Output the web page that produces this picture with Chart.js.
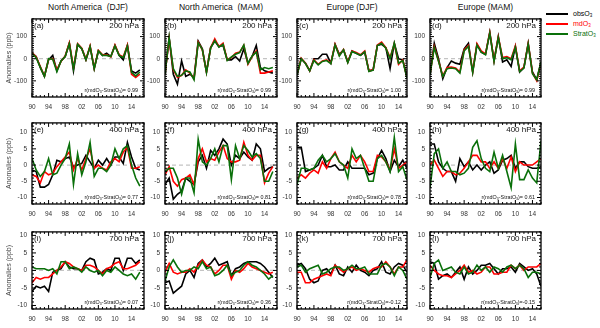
<!DOCTYPE html>
<html>
<head>
<meta charset="utf-8">
<script src="https://cdn.jsdelivr.net/npm/chart.js@4.4.1/dist/chart.umd.min.js"></script>
<style>
  body { margin: 0; background: #fff; width: 600px; height: 328px; position: relative; overflow: hidden;
         font-family: "Liberation Sans", Arial, Helvetica, sans-serif; }
  canvas { position: absolute; }
  .ttl { position: absolute; top: 2px; font-size: 8.5px; line-height: 10px; color: #111; white-space: pre; transform: translateX(-50%); }
  .leg { position: absolute; left: 546px; height: 10px; font-size: 7px; line-height: 10px; white-space: nowrap; }
  .leg i { display: inline-block; width: 22px; height: 1.5px; vertical-align: middle; margin-right: 5px; }
  .leg sub { font-size: 4.5px; vertical-align: -1px; }
</style>
</head>
<body>
<div class="leg" style="top:9px;color:#000"><i style="background:#000"></i>obsO<sub>3</sub></div>
<div class="leg" style="top:19px;color:#ff0000"><i style="background:#ff0000"></i>mdO<sub>3</sub></div>
<div class="leg" style="top:29px;color:#0a700a"><i style="background:#0a700a"></i>StratO<sub>3</sub></div>
<script>
// years of the anomaly series
const years = [1990, 1991, 1992, 1993, 1994, 1995, 1996, 1997, 1998, 1999, 2000, 2001, 2002, 2003,
  2004, 2005, 2006, 2007, 2008, 2009, 2010, 2011, 2012, 2013, 2014, 2015, 2016];
const xTickYears = [1990, 1994, 1998, 2002, 2006, 2010, 2014];

const columnTitles = ['North America  (DJF)', 'North America  (MAM)', 'Europe (DJF)', 'Europe (MAM)'];
const levels = ['200 hPa', '400 hPa', '700 hPa'];
const panelLetters = ['a', 'b', 'c', 'd', 'e', 'f', 'g', 'h', 'i', 'j', 'k', 'l'];
const rValues = ['0.99', '0.99', '1.00', '0.99', '0.77', '0.81', '0.78', '0.61', '0.07', '0.36', '-0.12', '-0.15'];
const rowYTicks = [[-100, 0, 100], [-10, -5, 0, 5, 10], [-10, -5, 0, 5, 10]];

// 200 hPa
const obsA = [25, 10, -40, -80, -5, 15, -55, -10, 10, 70, -55, 65, 45, -5, 55, -45, 35, 15, 25, 10, 60, 15, -5, 60, -55, -65, -50];
const mdA = [28, 8, -35, -78, -2, 0, -50, -12, 12, 72, -40, 68, 48, -3, 58, -42, 38, 18, 18, 8, 62, 18, 8, 62, -70, -85, -70];
const stA = [26, 5, -38, -80, 0, -2, -58, -10, 10, 68, -45, 65, 45, -5, 55, -45, 35, 15, 15, 10, 58, 15, 5, 58, -62, -78, -60];

const obsB = [-70, 95, -70, -115, -10, -80, -70, -85, 80, 45, -60, 50, 80, 55, 60, -5, -5, 10, -10, 45, -20, 10, 60, -40, -55, -60, -65];
const mdB = [-70, 90, -50, -85, -75, -50, -65, -90, 75, 40, -60, 50, 90, 55, 70, -5, 5, 25, 30, 60, -25, 10, 35, -65, -65, -60, -55];
const stB = [-70, 95, -45, -80, -75, -55, -60, -95, 72, 42, -62, 48, 82, 52, 65, -8, 8, 20, 28, 62, -22, 12, 30, -50, -40, -45, -40];

const obsC = [-75, 0, -20, -55, 0, 0, 20, 20, -20, 65, 20, 40, -15, 35, 25, 15, 30, -55, -50, 60, 65, 50, -45, 70, 0, -5, -85];
const mdC = [-70, 2, -20, -55, -5, -25, -10, -5, -20, 65, 15, 42, -15, 35, 28, 18, 35, -55, -50, 62, 75, 50, 5, 68, -25, -5, -85];
const stC = [-72, 0, -22, -55, -8, -28, -12, -8, -22, 62, 12, 40, -18, 32, 25, 15, 32, -58, -52, 60, 70, 48, 0, 70, -20, -8, -88];

const obsD = [-70, 70, 0, -90, -40, -10, -20, -25, 45, 70, -60, 65, 30, 20, 120, -10, 100, -15, -5, -35, 55, -60, -40, 70, -60, -95, -15];
const mdD = [-70, 55, -10, -78, -40, -38, -42, -60, 40, 60, -58, 68, 35, 22, 118, -8, 98, 5, 10, 0, 58, -55, -38, 68, -65, -100, -18];
const stD = [-72, 50, -12, -80, -45, -42, -45, -65, 35, 55, -62, 62, 30, 18, 115, -12, 95, 0, 5, -5, 52, -58, -42, 65, -68, -95, -15];

// 400 hPa
const obsE = [-1.5, -2, -6.8, -6.8, -6, -3, 1.5, 1, 2, 2.5, -0.5, 0, 0.5, 3, 1, -1, 1.5, 0, 2, 0, 2.5, 2.5, 0.5, 7, 2.5, -1, -1.5];
const mdE = [-3, -3.5, -5.5, -2, -3, -2.5, -0.5, 1, 2.5, 4, -1.5, 2, -1.5, 2, 5, -1, 0, -1, -1.5, 1, 2, 1, 4, 5.5, -1, -1, -0.5];
const stE = [2, -1.5, -3.5, -2, 2, -3, -2.5, 0, 2, 6.5, -6, 3.5, -3, 1, 7, -3.5, -1, -1, -2, 0, 5, 2, 5, 6, 0, -4, -6.5];

const obsF = [-6, -4, -10.5, -9, -8, -4, -5, -6, 1, 3, -1, 4.5, 3, 5, 8, 6.5, 0, 3, 2, 4, 2.5, 1.5, 6.5, 5, -2, -1, -0.5];
const mdF = [-3, -0.5, -5, -6.5, -4.5, -4, -3, -6, 2, 5, 1, 2, 1.5, 4, 6, 2, 1, 1, 1.5, 7, 3, 1.5, 3, 3, -5.5, -2.5, -0.5];
const stF = [-2, -1, -1, -4, -9, -4, -4, -8.5, 8, 1, 0, 2, 5, 1, 6, 6, -4.5, 6, 2, 6, 4.5, 2.5, 3.5, 2, -5, -5, -2];

const obsG = [5.5, 5.5, -2, -1.5, -1, 0, 3, -0.5, -0.5, 0, -1.5, -1.5, 1, -1, -1, -1, -1, -3, -2.5, 2, 4.5, 2, -2, 1.5, -0.5, 1.5, -1];
const mdG = [-4, -3, -4, -2.5, -1.5, -2.5, 1, -1, 2, 4, 1, 0, -1, 3, 1, 3, 1, -2, -2, 3, 2.5, 1, -1.5, 5, -1, 0, 1];
const stG = [-6, -1, -1, -1.5, -1, 1.5, 3, 1, 2, 3.5, 1, 0, -4, 5, 2, 3, -1, -5, -5, 2, 3, 1, -2, 8.5, -2, -0.5, -4.5];

const obsH = [6.5, 6.5, 1, -1, -2, -2, -5, 2, -0.5, 1, -1.5, 0, -1.5, 0, 1, -2.5, -1.5, 1.5, 2, 3, -1, 1, 1, -0.5, -1, -1, -0.5];
const mdH = [0, 1.5, -1, -3.5, -2, -2, -3, -2.5, -1, 1, 3, 3, 1, 1, -1, 1, -1, 2, -1, 2.5, -2, 1, 0, 0, 0, 1, 2];
const stH = [-7, 3.5, 5, -1, 1, -2, -2, -3, -2.5, -1, 5.5, 7.5, 2, -1, -2, 4, -1, 3, -2, -7, 6.5, -4.5, -4.5, -1.5, -4, -5.5, 7.5];

// 700 hPa
const obsI = [-6, -4.5, -5, -4.5, -6, -0.5, 0, 0.5, 2.5, 1, 0.5, 0.5, 0, 2.5, 3.5, 3, -1, -0.5, 0.5, 0, 3.5, 3.5, 0, 3.5, 3.5, 2, 3];
const mdI = [-3.5, -2, -2.5, -2, -2, -1, 0, 1, 2.5, 2, 1, 0.5, 0, 1.5, 1.5, 1, 0, -1, 0.5, 1, 2, 2.5, 0.5, 0.5, 1, 1.5, 2.5];
const stI = [1, 0.5, 0.5, 0.5, 0, 0.5, -1, 2.5, 2.5, 0.5, 1, 0.5, -0.5, 1, 0, -0.5, 0, -1.5, 0, -0.5, 1, 0, -1, -1.5, -1, -2.5, -0.5];

const obsJ = [-3.5, -3, -6.5, -5.5, -4.5, -1, 0, -2, 2, 3, 1, 2, 3.5, 1.5, 2, 2.5, -1.5, 0.5, 1, 2, 2.5, 2.5, 2.5, 2, 1, -0.5, -2];
const mdJ = [-0.5, 2, -0.5, -1, -0.5, -0.5, 0.5, -0.5, 1.5, 3, 1.5, 1, -1, 0, 1.5, 1.5, -2.5, 0, -0.5, 0.5, 2, 1, 0.5, 0, -0.5, -1, -0.5];
const stJ = [-3, 1, 3, 1, -0.5, 0, 0, 1, 0.5, 2.5, 0.5, 1, -1.5, -1, 0, 1.5, -1.5, -0.5, 0, 1.5, 2.5, 1.5, 1, 0, -1, -2.5, -1.5];

const obsK = [1.5, 2, 0.5, -2.5, -3.5, -3, 0, 0.5, -1, 1.5, -1, -1.5, 1, -0.5, 1.5, 0, -0.5, -1.5, 0, 0.5, 2.5, -0.5, -1, 1, 2, 1.5, -0.5];
const mdK = [-0.5, -0.5, -3.5, -3.5, -2.5, -2, -1.5, -1, -1.5, 1.5, 0.5, -0.5, 0.5, 1, 0, 0.5, 0, -0.5, 0.5, 1, 1, 2.5, 1, -1, 1, 1, 3];
const stK = [1, 1.5, -0.5, 0.5, 1, 1.5, -1, -0.5, 0.5, 1, 1, 0, 0.5, 1.5, 0.5, 0.5, 1, -1, -1, -1, 1.5, 2, 1, -1.5, 1, 0, -2.5];

const obsL = [2.5, 2, -2.5, -1.5, -1, -2, -0.5, 1, -2.5, 1, -1, 0, 1.5, 1.5, 2, 0.5, -1, 0.5, 0.5, 1, -0.5, 2, 1, 0, 0.5, -1, -4.5];
const mdL = [1.5, 0, -1, -1.5, -1.5, -2, -1, 0, 1.5, -0.5, 0, -1, -0.5, 1, 1, -1, -1, -0.5, -0.5, 1.5, 0.5, 1.5, 0, 1, 1, 1, 2];
const stL = [-2, 2, 3, 0, 0.5, 1, -0.5, -1, 1, -1, -0.5, 1.5, 0, 1, -0.5, 1, 0.5, -0.5, 1, 1.5, 0.5, 1.5, 0.5, -2, -0.5, -0.5, -1];

const panelSeries = [
  [obsA, mdA, stA], [obsB, mdB, stB], [obsC, mdC, stC], [obsD, mdD, stD],
  [obsE, mdE, stE], [obsF, mdF, stF], [obsG, mdG, stG], [obsH, mdH, stH],
  [obsI, mdI, stI], [obsJ, mdJ, stJ], [obsK, mdK, stK], [obsL, mdL, stL]
];

// layout of the plot boxes (page pixels)
const colLeft = [32, 165, 297, 430];
const colRight = [144, 277, 407, 541];
const rowTop = [16, 120, 229];
const rowBottom = [97, 204, 309];
const rowRange = [[-173, 180], [-12, 13], [-11, 11]];
const rowMinorStep = [10, 1, 1];
const colXMax = [2017, 2017, 2016, 2016];

const FONT = '"Liberation Sans", Arial, Helvetica, sans-serif';
const COLORS = { obs: '#000000', md: '#ff0000', strat: '#0a700a' };

function toPoints(vals) {
  return vals.map((v, i) => ({ x: years[i], y: v }));
}

// right-aligned text with subscripts
function richText(ctx, parts, x, y, size) {
  const widths = parts.map(([t, sub]) => {
    ctx.font = (sub ? size * 0.65 : size) + 'px ' + FONT;
    return ctx.measureText(t).width;
  });
  let cx = x - widths.reduce((a, b) => a + b, 0);
  parts.forEach(([t, sub], i) => {
    ctx.font = (sub ? size * 0.65 : size) + 'px ' + FONT;
    ctx.fillText(t, cx, sub ? y + size * 0.25 : y);
    cx += widths[i];
  });
}

const panelDecor = {
  id: 'panelDecor',
  beforeDatasetsDraw(chart) {
    const { ctx, chartArea: a, scales } = chart;
    const y0 = scales.y.getPixelForValue(0);
    ctx.save();
    ctx.strokeStyle = '#c4c4c4';
    ctx.lineWidth = 1.3;
    ctx.setLineDash([4, 3]);
    ctx.beginPath();
    ctx.moveTo(a.left, y0);
    ctx.lineTo(a.right, y0);
    ctx.stroke();
    ctx.restore();
  },
  afterDraw(chart, args, o) {
    const { ctx, chartArea: a, scales: { x, y } } = chart;
    ctx.save();
    ctx.setLineDash([]);
    ctx.strokeStyle = '#000';
    ctx.lineWidth = 1.3;
    ctx.strokeRect(a.left, a.top, a.right - a.left, a.bottom - a.top);

    // inward tick marks
    ctx.lineWidth = 1;
    ctx.beginPath();
    for (let yr = 1990; yr <= x.max; yr++) {
      const px = x.getPixelForValue(yr);
      const len = (yr - 1990) % 4 === 0 ? 4 : 2;
      ctx.moveTo(px, a.bottom); ctx.lineTo(px, a.bottom - len);
      ctx.moveTo(px, a.top); ctx.lineTo(px, a.top + len);
    }
    const step = o.minorStep;
    for (let k = Math.ceil(y.min / step); k * step <= y.max; k++) {
      const v = k * step;
      const py = y.getPixelForValue(v);
      const len = o.majors.includes(v) ? 4 : 2;
      ctx.moveTo(a.left, py); ctx.lineTo(a.left + len, py);
      ctx.moveTo(a.right, py); ctx.lineTo(a.right - len, py);
    }
    ctx.stroke();

    // panel texts
    ctx.fillStyle = '#111';
    ctx.textBaseline = 'alphabetic';
    ctx.font = '8px ' + FONT;
    ctx.textAlign = 'left';
    ctx.fillText('(' + o.letter + ')', a.left + 2, a.top + 9);
    ctx.textAlign = 'right';
    ctx.fillText(o.level, a.right - 5, a.top + 9);
    ctx.textAlign = 'left';
    const eq = o.r.startsWith('-') ? ')=' : ')= ';
    richText(ctx, [['r(mdO', false], ['3', true], ['-StratO', false], ['3', true], [eq + o.r, false]],
      a.right - 6, a.bottom - 5, 5.4);

    if (o.yTitle) {
      ctx.translate(a.left - 23, (a.top + a.bottom) / 2);
      ctx.rotate(-Math.PI / 2);
      ctx.textAlign = 'center';
      ctx.textBaseline = 'middle';
      ctx.fillStyle = '#444';
      ctx.font = '7px ' + FONT;
      ctx.fillText('Anomalies (ppb)', 0, 0);
    }
    ctx.restore();
  }
};

function addPanel(row, col) {
  const idx = row * 4 + col;
  const yW = 30, padT = 6, padR = 3, xH = 16;
  const plotW = colRight[col] - colLeft[col];
  const plotH = rowBottom[row] - rowTop[row];
  const cv = document.createElement('canvas');
  cv.width = plotW + yW + padR;
  cv.height = plotH + padT + xH;
  cv.style.left = (colLeft[col] - yW) + 'px';
  cv.style.top = (rowTop[row] - padT) + 'px';
  cv.style.width = cv.width + 'px';
  cv.style.height = cv.height + 'px';
  document.body.appendChild(cv);

  const [obs, md, strat] = panelSeries[idx];
  const tickFont = { family: FONT, size: 6.5 };

  new Chart(cv, {
    type: 'line',
    data: {
      datasets: [
        { label: 'obsO3', data: toPoints(obs), borderColor: COLORS.obs, order: 3 },
        { label: 'mdO3', data: toPoints(md), borderColor: COLORS.md, order: 2 },
        { label: 'StratO3', data: toPoints(strat), borderColor: COLORS.strat, order: 1 }
      ]
    },
    options: {
      responsive: false,
      animation: false,
      devicePixelRatio: 1,
      layout: { padding: { top: padT, right: padR, left: 0, bottom: 0 } },
      elements: { point: { radius: 0 }, line: { borderWidth: 1.6, tension: 0 } },
      plugins: {
        legend: { display: false },
        tooltip: { enabled: false },
        panelDecor: {
          letter: panelLetters[idx], level: levels[row], r: rValues[idx],
          minorStep: rowMinorStep[row], majors: rowYTicks[row], yTitle: col === 0
        }
      },
      scales: {
        x: {
          type: 'linear', min: 1990, max: colXMax[col],
          grid: { display: false, drawTicks: false }, border: { display: false },
          afterBuildTicks: s => { s.ticks = xTickYears.map(v => ({ value: v })); },
          afterFit: s => { s.height = xH; },
          ticks: {
            padding: 6, autoSkip: false, maxRotation: 0, color: '#333', font: tickFont,
            callback: v => String(v % 100).padStart(2, '0')
          }
        },
        y: {
          min: rowRange[row][0], max: rowRange[row][1],
          grid: { display: false, drawTicks: false }, border: { display: false },
          afterBuildTicks: s => { s.ticks = rowYTicks[row].map(v => ({ value: v })); },
          afterFit: s => { s.width = yW; },
          ticks: { padding: 5, color: '#333', font: tickFont, callback: v => String(v) }
        }
      }
    },
    plugins: [panelDecor]
  });
}

columnTitles.forEach((t, col) => {
  const d = document.createElement('div');
  d.className = 'ttl';
  d.textContent = t;
  d.style.left = ((colLeft[col] + colRight[col]) / 2) + 'px';
  document.body.appendChild(d);
});

for (let row = 0; row < 3; row++) {
  for (let col = 0; col < 4; col++) addPanel(row, col);
}
</script>
</body>
</html>
